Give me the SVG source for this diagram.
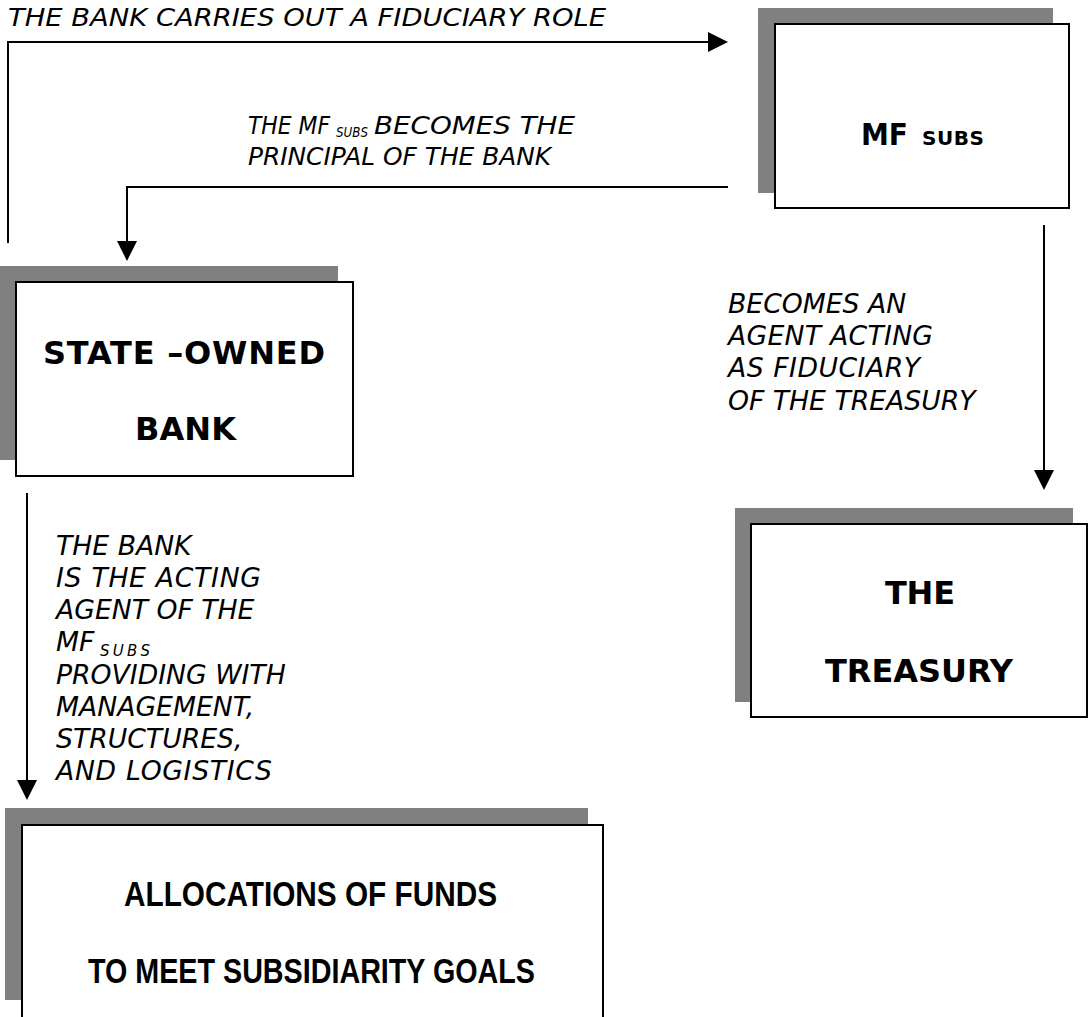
<svg xmlns="http://www.w3.org/2000/svg" width="1088" height="1017" viewBox="0 0 1088 1017">
<style>
.shadow{fill:#808080;stroke:none}
.box{fill:#fff;stroke:#000;stroke-width:2}
.conn{fill:none;stroke:#000;stroke-width:2}
.head{fill:#000}
.lbl{font-family:"DejaVu Sans Condensed","DejaVu Sans",sans-serif;font-style:italic;font-size:25px;fill:#000}
.lbl2{font-family:"DejaVu Sans",Verdana,sans-serif;font-style:italic;font-size:26.67px;fill:#000}
.title{font-family:"DejaVu Sans",Verdana,sans-serif;font-weight:bold;font-size:32px;fill:#000}
.alloc{font-family:"Liberation Sans",Arial,sans-serif;font-weight:bold;font-size:35px;fill:#000}
</style>
<rect width="1088" height="1017" fill="#fff"/>
<g id="connectors">
  <path class="conn" d="M8,243 V42 H712"/>
  <polygon class="head" points="728,42 708,32 708,52"/>
  <path class="conn" d="M728,187 H127 V244"/>
  <polygon class="head" points="127,261 117,241 137,241"/>
  <path class="conn" d="M1044,225 V472"/>
  <polygon class="head" points="1044,490 1034,470 1054,470"/>
  <path class="conn" d="M27,493 V782"/>
  <polygon class="head" points="27,800 17,780 37,780"/>
  <text class="lbl" x="8" y="26" textLength="598" lengthAdjust="spacingAndGlyphs">THE BANK CARRIES OUT A FIDUCIARY ROLE</text>
  <text class="lbl" x="248" y="134"><tspan textLength="82" lengthAdjust="spacingAndGlyphs">THE MF</tspan><tspan x="336" y="137" style="font-size:14px" textLength="32" lengthAdjust="spacingAndGlyphs">SUBS</tspan><tspan x="374" y="134" textLength="201" lengthAdjust="spacingAndGlyphs">BECOMES THE</tspan></text>
  <text class="lbl" x="248" y="165" textLength="303" lengthAdjust="spacingAndGlyphs">PRINCIPAL OF THE BANK</text>
  <g class="lbl2">
    <text x="728" y="313">BECOMES AN</text>
    <text x="728" y="345" textLength="205">AGENT ACTING</text>
    <text x="728" y="377" textLength="192">AS FIDUCIARY</text>
    <text x="728" y="410">OF THE TREASURY</text>
  </g>
  <g class="lbl2">
    <text x="56" y="555">THE BANK</text>
    <text x="56" y="587" textLength="205">IS THE ACTING</text>
    <text x="56" y="619">AGENT OF THE</text>
    <text x="56" y="651">MF</text>
    <text x="100" y="656" style="font-size:15px" textLength="50">SUBS</text>
    <text x="56" y="684">PROVIDING WITH</text>
    <text x="56" y="716">MANAGEMENT,</text>
    <text x="56" y="748">STRUCTURES,</text>
    <text x="56" y="780" textLength="216">AND LOGISTICS</text>
  </g>
</g>
<g id="mf-subs">
  <rect class="shadow" x="758" y="8" width="295" height="185"/>
  <rect class="box" x="775" y="24" width="294" height="184"/>
  <text class="title" x="861" y="145" style="font-size:30px" textLength="47" lengthAdjust="spacingAndGlyphs">MF</text>
  <text class="title" x="922" y="145" style="font-size:20px" textLength="62">SUBS</text>
</g>
<g id="state-owned-bank">
  <rect class="shadow" x="0" y="266" width="338" height="194"/>
  <rect class="box" x="16" y="282" width="337" height="194"/>
  <text class="title" x="43" y="364" textLength="282">STATE –OWNED</text>
  <text class="title" x="135" y="440" textLength="101">BANK</text>
</g>
<g id="treasury">
  <rect class="shadow" x="735" y="508" width="338" height="194"/>
  <rect class="box" x="751" y="524" width="336" height="193"/>
  <text class="title" x="885" y="604" textLength="70">THE</text>
  <text class="title" x="825" y="682" textLength="188">TREASURY</text>
</g>
<g id="allocations">
  <rect class="shadow" x="5" y="808" width="583" height="192"/>
  <rect class="box" x="22" y="825" width="581" height="200"/>
  <text class="alloc" x="124" y="906" textLength="373" lengthAdjust="spacingAndGlyphs">ALLOCATIONS OF FUNDS</text>
  <text class="alloc" x="88" y="983" textLength="447" lengthAdjust="spacingAndGlyphs">TO MEET SUBSIDIARITY GOALS</text>
</g>
</svg>
